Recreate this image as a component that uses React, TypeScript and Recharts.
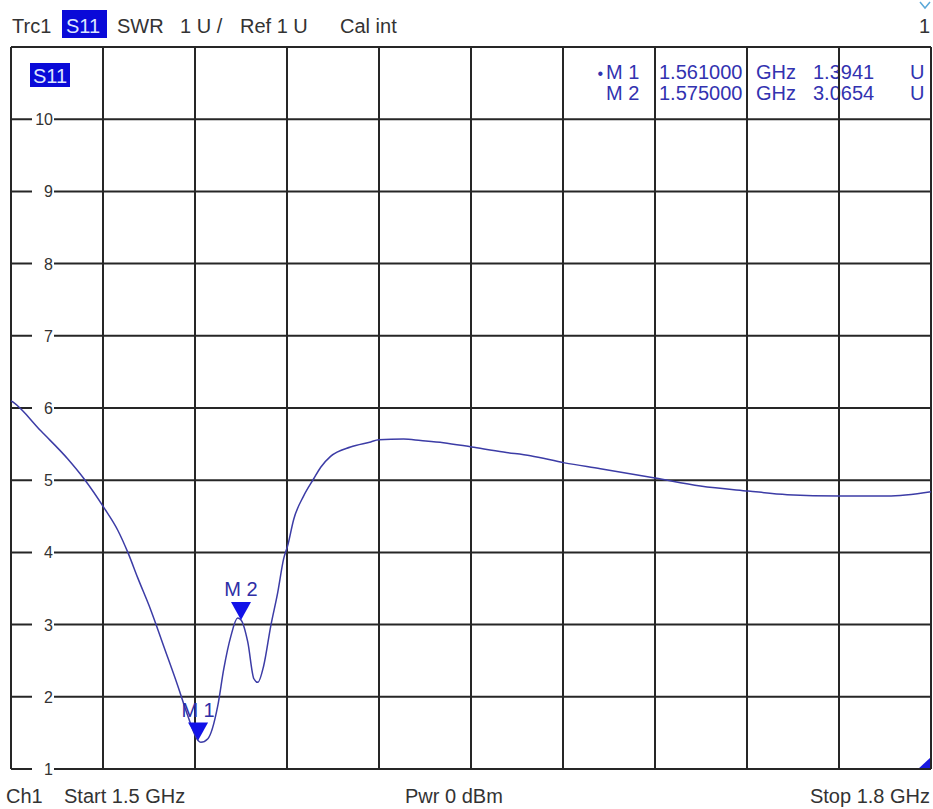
import React from "react"
import { LineChart, Line, XAxis, YAxis, CartesianGrid, ReferenceDot } from "recharts"

// S11 trace
const freqGHz = [
  1.5, 1.5007, 1.5098, 1.5186, 1.5238, 1.5303, 1.5349, 1.5381, 1.5414, 1.5456,
  1.5498, 1.5544, 1.5577, 1.561, 1.5619, 1.5642, 1.5674, 1.5694, 1.5717, 1.5739,
  1.575, 1.5772, 1.5792, 1.5805, 1.5824, 1.5847, 1.587, 1.5889, 1.5902, 1.5922,
  1.5954, 1.5987, 1.601, 1.6042, 1.6107, 1.6173, 1.6199, 1.628, 1.6336, 1.641,
  1.6502, 1.6606, 1.6694, 1.6805, 1.6922, 1.7101, 1.7248, 1.7404, 1.7531, 1.77,
  1.7857, 1.8,
]
const swr = [
  6.1, 6.08, 5.68, 5.29, 5.02, 4.62, 4.3, 4.0, 3.64, 3.2,
  2.7, 2.15, 1.73, 1.394, 1.37, 1.42, 1.87, 2.39, 2.84, 3.09,
  3.065, 2.76, 2.25, 2.2, 2.43, 2.98, 3.45, 3.91, 4.09, 4.46,
  4.78, 5.02, 5.18, 5.33, 5.46, 5.53, 5.56, 5.57, 5.55, 5.52,
  5.46, 5.39, 5.34, 5.24, 5.16, 5.03, 4.92, 4.85, 4.8, 4.78,
  4.78, 4.84,
]

const xTicks = [1.5, 1.53, 1.56, 1.59, 1.62, 1.65, 1.68, 1.71, 1.74, 1.77, 1.8]
const yTicks = [1, 2, 3, 4, 5, 6, 7, 8, 9, 10, 11]

const markerNames = ["M 1", "M 2"]
const markerFreq = [1.561, 1.575]
const markerSwr = [1.3941, 3.0654]
const markerFreqText = ["1.561000", "1.575000"]
const markerSwrText = ["1.3941", "3.0654"]

const trace = freqGHz.map((f, i) => ({ f, swr: swr[i] }))

const FONT = "'Liberation Sans', Arial, sans-serif"
const PLOT_LEFT = 10
const TEXT = "#333"
const MARK_TEXT = "#3232b0"

function YTick(props: any) {
  const { y, payload } = props
  if (payload.value === 11) return <g />
  return (
    <g>
      <rect x={PLOT_LEFT + 22} y={y - 4} width={22} height={8} fill="#fff" />
      <text x={PLOT_LEFT + 43} y={y} dy={6} textAnchor="end" fontSize={16} fill={TEXT} fontFamily={FONT}>
        {payload.value}
      </text>
    </g>
  )
}

const markerShape = (name: string) => (props: any) => {
  const { cx, cy } = props
  return (
    <g>
      <polygon points={`${cx - 10},${cy - 18} ${cx + 10},${cy - 18} ${cx},${cy}`} fill="#1212e8" />
      <text x={cx} y={cy - 24} textAnchor="middle" fontSize={20} fill="#2e2ea6" fontFamily={FONT}>
        {name}
      </text>
    </g>
  )
}

export default function App() {
  return (
    <div style={{ position: "absolute", left: 0, top: 0, width: 933, height: 809, background: "#fff" }}>
      {/* text layer under the chart, so the grid runs over the marker table like on the instrument */}
      <svg width={933} height={809} style={{ position: "absolute", left: 0, top: 0 }} fontFamily={FONT}>
        <g fontSize={20} fill={TEXT}>
          <text x={12} y={33}>Trc1</text>
          <rect x={62} y={10} width={45} height={28} fill="#0a0ad8" />
          <text x={66} y={33} fill="#dde6ff">S11</text>
          <text x={117} y={33}>SWR</text>
          <text x={180} y={33}>1 U /</text>
          <text x={240} y={33}>Ref 1 U</text>
          <text x={340} y={33}>Cal int</text>
          <text x={930} y={33} textAnchor="end">1</text>
        </g>
        <path d="M920,2 L925,8 L930,2" fill="none" stroke="#5aa8d8" strokeWidth={1.5} />
        <g fontSize={20} fill={MARK_TEXT}>
          {markerNames.map((n, i) => (
            <g key={n}>
              {i === 0 && <text x={603} y={79} textAnchor="end" fontSize={16}>•</text>}
              <text x={606} y={79 + i * 21}>{n}</text>
              <text x={659} y={79 + i * 21}>{markerFreqText[i]}</text>
              <text x={756} y={79 + i * 21}>GHz</text>
              <text x={813} y={79 + i * 21}>{markerSwrText[i]}</text>
              <text x={910} y={79 + i * 21}>U</text>
            </g>
          ))}
        </g>
        <rect x={30} y={63} width={40} height={24} fill="#0a0ad8" />
        <text x={33} y={83} fontSize={20} fill="#dde6ff">S11</text>
        <g fontSize={20} fill={TEXT}>
          <text x={6} y={803}>Ch1</text>
          <text x={64} y={803}>Start  1.5 GHz</text>
          <text x={405} y={803}>Pwr  0 dBm</text>
          <text x={930} y={803} textAnchor="end">Stop  1.8 GHz</text>
        </g>
        <polygon points="917,770 931,770 931,757" fill="#1a1ae0" />
      </svg>
      <div style={{ position: "absolute", left: 0, top: 0 }}>
        <LineChart width={933} height={809} data={trace} margin={{ top: 47, right: 2, bottom: 39, left: PLOT_LEFT }}>
          <CartesianGrid stroke="#262626" strokeWidth={2} />
          <XAxis
            type="number"
            dataKey="f"
            domain={[1.5, 1.8]}
            ticks={xTicks}
            interval={0}
            height={1}
            tick={() => <g />}
            tickLine={false}
            axisLine={false}
          />
          <YAxis
            type="number"
            domain={[1, 11]}
            ticks={yTicks}
            width={1}
            tick={(p: any) => <YTick {...p} />}
            tickLine={false}
            axisLine={false}
            interval={0}
          />
          <Line
            type="monotone"
            dataKey="swr"
            stroke="#3c3ca6"
            strokeWidth={1.5}
            dot={false}
            isAnimationActive={false}
          />
          {markerNames.map((n, i) => (
            <ReferenceDot key={n} x={markerFreq[i]} y={markerSwr[i]} r={0} shape={markerShape(n)} />
          ))}
        </LineChart>
      </div>
    </div>
  )
}
